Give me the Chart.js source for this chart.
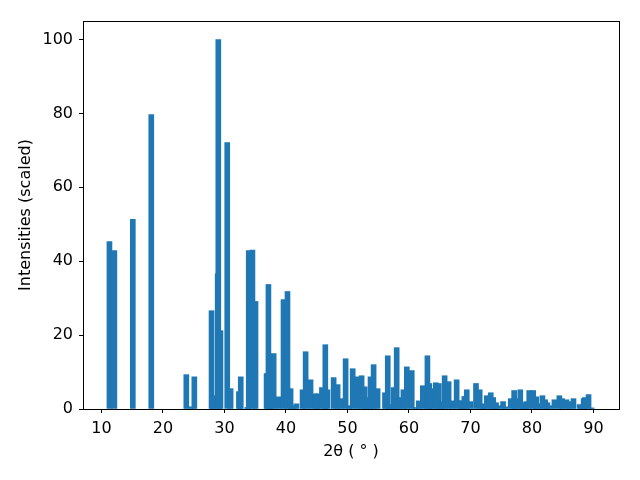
<!DOCTYPE html>
<html>
<head>
<meta charset="utf-8">
<script src="https://cdn.jsdelivr.net/npm/chart.js@4"></script>
<style>
  html, body { margin: 0; padding: 0; background: #fff; }
  #wrap { width: 640px; height: 480px; }
</style>
</head>
<body>
<div id="wrap"><canvas id="myChart" width="640" height="480"></canvas></div>
<script>
// peak positions (2 theta, degrees) and scaled intensities
var twoTheta = [
  11.3, 12.1, 15.1, 18.1, 23.8, 24.6, 25.1, 27.9, 28.2, 28.9,
  29.35, 29.0, 30.45, 31.0, 32.35, 32.65, 33.7, 33.95, 34.55, 35.05,
  36.85, 37.15, 37.6, 38.0, 38.8, 39.6, 40.25, 40.75, 41.25, 41.7,
  42.7, 43.2, 44.0, 44.8, 45.1, 45.85, 46.4, 46.75, 47.75, 48.4,
  48.9, 49.7, 50.3, 50.85, 51.65, 52.3, 52.8, 53.25, 53.75, 54.25,
  54.9, 56.1, 56.55, 57.05, 57.5, 58.0, 58.5, 59.1, 59.65, 60.45,
  61.1, 61.6, 62.25, 63.0, 63.3, 63.7, 64.35, 64.85, 65.3, 65.8,
  66.45, 67.0, 67.75, 68.4, 68.7, 69.0, 69.4, 70.0, 70.9, 71.5,
  72.05, 72.25, 72.65, 73.3, 73.7, 74.15, 74.5, 75.3, 75.65, 76.55,
  77.1, 77.5, 78.1, 78.5, 78.8, 79.1, 79.55, 80.2, 80.7, 81.05,
  81.7, 82.15, 82.5, 82.9, 83.65, 84.45, 84.9, 85.6, 86.1, 86.75,
  87.75, 88.05, 88.4, 88.6, 89.2, 89.7
];
var intensity = [
  45.3, 42.9, 51.3, 79.7, 9.3, 0.6, 8.7, 26.6, 3.6, 36.6,
  21.2, 100, 72.1, 5.5, 4.7, 8.7, 0.4, 42.9, 43.0, 29.1,
  9.6, 33.7, 13.9, 15.0, 3.3, 29.6, 31.8, 5.5, 0.9, 1.4,
  5.2, 15.5, 7.9, 4.1, 4.1, 5.8, 17.4, 5.2, 8.5, 6.6,
  2.8, 13.6, 0.9, 10.9, 8.7, 9.0, 6.0, 3.1, 8.7, 12.0,
  5.5, 4.4, 14.4, 1.2, 5.8, 16.6, 3.1, 5.2, 11.4, 10.4,
  0.4, 2.2, 6.3, 14.4, 6.9, 5.5, 7.1, 6.9, 2.0, 9.0,
  7.4, 2.2, 7.9, 2.3, 1.7, 3.4, 5.2, 2.0, 6.9, 5.2,
  1.4, 0.6, 3.6, 4.4, 3.1, 1.7, 0.9, 2.0, 0.6, 2.8,
  5.0, 2.8, 5.2, 1.7, 0.9, 2.0, 5.0, 5.0, 3.3, 1.4,
  3.6, 2.5, 1.7, 0.9, 2.5, 3.6, 2.8, 2.5, 2.0, 2.8,
  1.2, 0.9, 2.8, 3.1, 3.9, 0.3
];
var xTicks = [10, 20, 30, 40, 50, 60, 70, 80, 90];
var yTicks = [0, 20, 40, 60, 80, 100];

var points = twoTheta.map(function (t, i) { return { x: t, y: intensity[i] }; });

// matplotlib style box around the axes
var frame = {
  id: 'frame',
  afterDraw: function (chart) {
    var a = chart.chartArea, c = chart.ctx;
    c.save();
    c.strokeStyle = '#000';
    c.lineWidth = 1;
    c.strokeRect(Math.round(a.left) + 0.5, Math.round(a.top) + 0.5,
      Math.round(a.right - a.left), Math.round(a.bottom - a.top));
    c.restore();
  }
};

Chart.defaults.font.family = 'DejaVu Sans';
Chart.defaults.font.size = 16;
Chart.defaults.color = '#000';

var ctx = document.getElementById('myChart').getContext('2d');
var myChart = new Chart(ctx, {
  type: 'bar',
  data: {
    datasets: [{
      data: points,
      backgroundColor: '#1f77b4',
      borderWidth: 0,
      barThickness: 5
    }]
  },
  plugins: [frame],
  options: {
    responsive: false,
    animation: false,
    layout: { padding: { top: 21, right: 21, left: 0, bottom: 0 } },
    plugins: { legend: { display: false }, tooltip: { enabled: false } },
    scales: {
      x: {
        type: 'linear',
        offset: false,
        min: 7.0,
        max: 94.15,
        afterBuildTicks: function (s) { s.ticks = xTicks.map(function (v) { return { value: v }; }); },
        afterFit: function (s) { s.height = 71; },
        grid: { offset: false, drawOnChartArea: false, color: '#000', tickLength: 4 },
        border: { color: '#000' },
        ticks: { padding: 6, maxRotation: 0 },
        title: { display: true, text: '2θ ( ° )', padding: { top: 2, bottom: 19 } }
      },
      y: {
        min: 0,
        max: 105,
        afterBuildTicks: function (s) { s.ticks = yTicks.map(function (v) { return { value: v }; }); },
        afterFit: function (s) { s.width = 83; },
        grid: { drawOnChartArea: false, color: '#000', tickLength: 4 },
        border: { color: '#000' },
        ticks: { padding: 6 },
        title: { display: true, text: 'Intensities (scaled)', padding: { top: 16, bottom: 4 } }
      }
    }
  }
});
</script>
</body>
</html>
